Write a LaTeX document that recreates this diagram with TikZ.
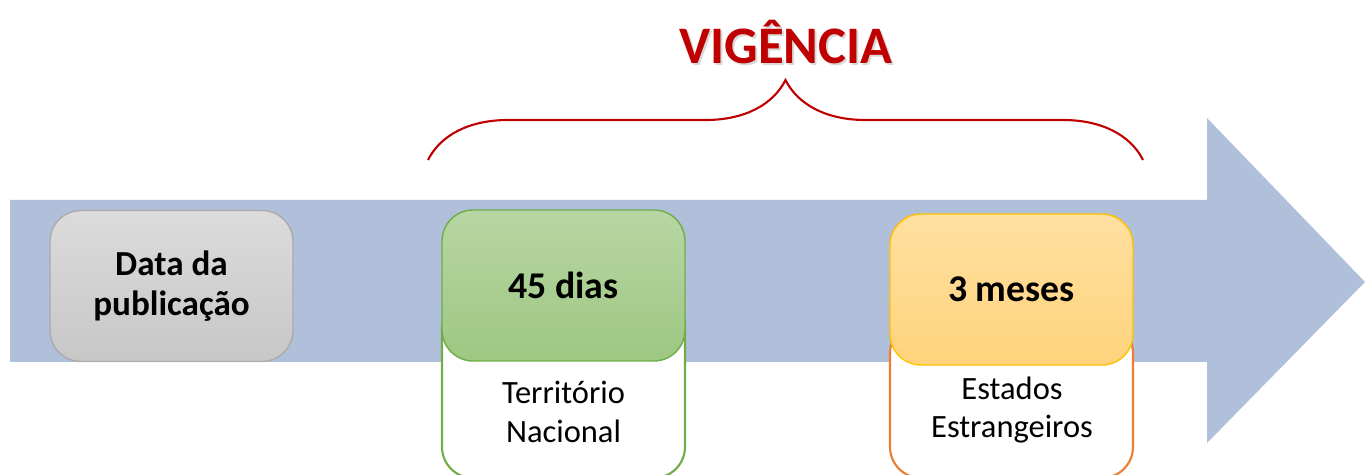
\documentclass[tikz,border=0pt]{standalone}
\usepackage{fontspec}
\setmainfont{Carlito}
\usepackage{tikz}
\usetikzlibrary{positioning,calc,decorations.pathreplacing}
\definecolor{vgblue}{HTML}{B0BFDA}
\definecolor{vgred}{HTML}{C00000}
\definecolor{vggreen}{HTML}{70AD47}
\definecolor{vgorange}{HTML}{ED7D31}
\definecolor{vggold}{HTML}{FFC000}
\definecolor{vggray}{HTML}{ABABAB}
\definecolor{vgpeachtop}{HTML}{FFE0A0}
\definecolor{vgpeachbot}{HTML}{FFD37C}
\tikzset{
  stageBox/.style={rounded corners=0.62cm, minimum width=4.86cm, minimum height=3.02cm, align=center, line width=0.8pt, font=\fontsize{21.5}{22}\selectfont\bfseries, inner sep=0pt},
  placeBox/.style={draw=#1, fill=white, rounded corners=0.62cm, minimum width=4.86cm, line width=1.2pt, inner sep=0pt},
  placeLabel/.style={font=\fontsize{18.5}{22}\selectfont, align=center},
  braceLine/.style={decorate, decoration={brace, amplitude=1.6cm}, line width=1.2pt, draw=vgred}
}

\begin{document}
\begin{tikzpicture}[x=0.02cm,y=-0.02cm]
  \useasboundingbox (0,0) rectangle (1365,475);
  \clip (0,0) rectangle (1365,475);
  % timeline arrow
  \fill[vgblue] (10,200) -- (1207,200) -- (1207,118) -- (1365,282) -- (1207,443) -- (1207,362) -- (10,362) -- cycle;

  % lower boxes (behind)
  \node[placeBox=vggreen, minimum height=3.66cm] (terrBox) at (563.5,386.5) {};
  \node[placeBox=vgorange, minimum height=3.12cm] (extBox) at (1011.5,400) {};
  \node[placeLabel] (terrText) at (563.5,412) {Território\\Nacional};
  \node[placeLabel] (extText) at (1012,410) {Estados\\Estrangeiros};

  % stages
  \node[stageBox, font=\fontsize{20}{22.5}\selectfont\bfseries, draw=vggray, top color=black!14, bottom color=black!22] (pubBox) at (171.5,286) {Data da\\publicação};
  \node[stageBox, draw=vggreen, top color=vggreen!50, bottom color=vggreen!68] (diasBox) at (563.5,285.5) {45 dias};
  \node[stageBox, draw=vggold, top color=vgpeachtop, bottom color=vgpeachbot] (mesesBox) at (1011.5,289.5) {3 meses};

  % vigencia
  \coordinate (braceL) at (428,160);
  \coordinate (braceR) at (1143,160);
  \draw[braceLine] (braceL) -- (braceR);
  \node[font=\fontsize{30}{36}\selectfont\bfseries, text=black!15] (vigShadow) at (788,44) {VIGÊNCIA};
  \node[font=\fontsize{30}{36}\selectfont\bfseries, text=vgred] (vigTitle) at (786,42) {VIGÊNCIA};
\end{tikzpicture}
\end{document}
